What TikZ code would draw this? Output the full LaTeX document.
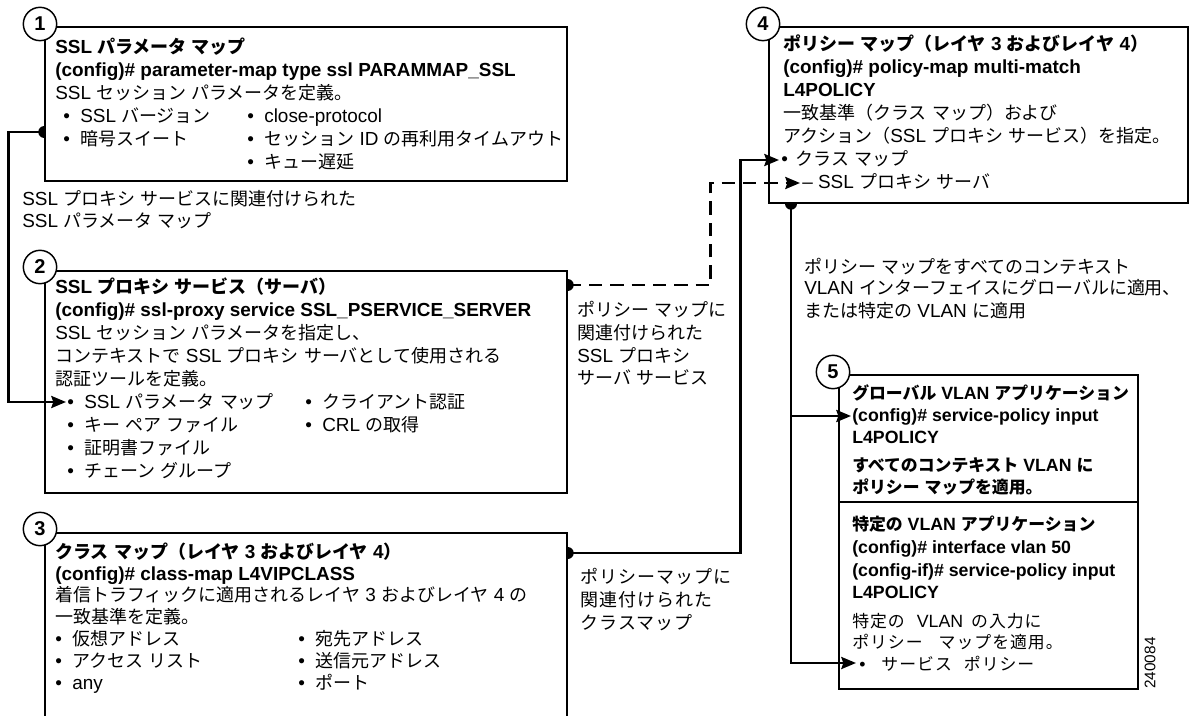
\documentclass[tikz,border=0pt]{standalone}
\usepackage{fontspec}
\setmainfont{Liberation Sans}
\newfontfamily\jfont[Scale=0.95]{Noto Sans CJK JP}
\newfontfamily\jwide[Scale=0.95,LetterSpace=6]{Noto Sans CJK JP}
\usetikzlibrary{arrows.meta,fit}
\XeTeXinterchartokenstate=1
\newXeTeXintercharclass\jclass
\makeatletter
\def\setjrange#1#2{\count@=#1\relax
  \loop\XeTeXcharclass\count@=\jclass\relax
  \ifnum\count@<#2\relax\advance\count@\@ne\repeat}
\setjrange{"3000}{"30FF}
\setjrange{"4E00}{"9FFF}
\setjrange{"FF00}{"FFEF}
\makeatother
\def\curjfont{\jfont}
\XeTeXinterchartoks 0 \jclass = {\begingroup\curjfont}
\XeTeXinterchartoks 4095 \jclass = {\begingroup\curjfont}
\XeTeXinterchartoks \jclass 0 = {\endgroup}
\XeTeXinterchartoks \jclass 4095 = {\endgroup}
\newcommand\basefont{\fontsize{14.2pt}{17pt}\selectfont}
\newcommand\smallbase{\fontsize{13.3pt}{17pt}\selectfont}
\newcommand\bul{•\hspace{0.55em}}
\begin{document}
\begin{tikzpicture}[x=0.75pt,y=-0.75pt,
  ln/.style={anchor=base west, inner sep=0pt, font=\basefont},
  lb/.style={anchor=base west, inner sep=0pt, font=\basefont\bfseries},
  lw/.style={anchor=base west, inner sep=0pt, font=\basefont\def\curjfont{\jwide}},
  sb/.style={anchor=base west, inner sep=0pt, font=\smallbase\bfseries},
  sw/.style={anchor=base west, inner sep=0pt, font=\smallbase\def\curjfont{\jwide}},
  boxn/.style={draw, line width=1.1pt, inner sep=0pt, rectangle},
  numc/.style={circle, draw, line width=1.1pt, fill=white, minimum size=25pt, inner sep=0pt, font=\fontsize{15pt}{15pt}\selectfont\bfseries},
  conn/.style={line width=2pt},
  arr/.style={conn, -{Stealth[length=11pt,width=9pt,inset=1.5pt]}},
  dsh/.style={dash pattern=on 10pt off 6pt}
]
\useasboundingbox (0,0) rectangle (1201,716);
% boxes
\node[boxn, fit={(45,27) (567,181)}] (box1) {};
\node[boxn, fit={(45,271) (567,493)}] (box2) {};
\node[boxn, fit={(45,533) (567,760)}] (box3) {};
\node[boxn, fit={(769,27) (1188,203)}] (box4) {};
\node[boxn, fit={(839,375) (1138,689)}] (box5) {};
\draw[line width=1.1pt] (box5.west |- 0,502) -- (box5.east |- 0,502);
% number circles
\node[numc] (n1) at (40,24) {1};
\node[numc] (n2) at (40,267) {2};
\node[numc] (n3) at (40,529) {3};
\node[numc] (n4) at (763,24) {4};
\node[numc] (n5) at (833,372) {5};
% box 1
\node[lb] (t11) at (55,54) {SSL パラメータ マップ};
\node[lb] (t12) at (55,77) {(config)\# parameter-map type ssl PARAMMAP\_SSL};
\node[ln] (t13) at (55,100) {SSL セッション パラメータを定義。};
\node[ln] (t14) at (63,123) {\bul SSL バージョン};
\node[ln] (t15) at (247,123) {\bul close-protocol};
\node[ln] (t16) at (63,146) {\bul 暗号スイート};
\node[ln] (t17) at (247,146) {\bul セッション ID の再利用タイムアウト};
\node[ln] (t18) at (247,169) {\bul キュー遅延};
\node[ln] (l1a) at (22,206) {SSL プロキシ サービスに関連付けられた};
\node[ln] (l1b) at (22,228) {SSL パラメータ マップ};
% box 2
\node[lb] (t21) at (55,293) {SSL プロキシ サービス（サーバ）};
\node[lb] (t22) at (55,316) {(config)\# ssl-proxy service SSL\_PSERVICE\_SERVER};
\node[ln] (t23) at (55,339) {SSL セッション パラメータを指定し、};
\node[ln] (t24) at (55,362) {コンテキストで SSL プロキシ サーバとして使用される};
\node[ln] (t25) at (55,385) {認証ツールを定義。};
\node[ln] (t26) at (67,408) {\bul SSL パラメータ マップ};
\node[ln] (t27) at (305,408) {\bul クライアント認証};
\node[ln] (t28) at (67,431) {\bul キー ペア ファイル};
\node[ln] (t29) at (305,431) {\bul CRL の取得};
\node[ln] (t2a) at (67,454) {\bul 証明書ファイル};
\node[ln] (t2b) at (67,477) {\bul チェーン グループ};
\node[ln] (l2a) at (577,316) {ポリシー マップに};
\node[ln] (l2b) at (577,339) {関連付けられた};
\node[ln] (l2c) at (577,362) {SSL プロキシ};
\node[ln] (l2d) at (577,384) {サーバ サービス};
% box 3
\node[lb] (t31) at (55,558) {クラス マップ（レイヤ 3 およびレイヤ 4）};
\node[lb] (t32) at (55,580) {(config)\# class-map L4VIPCLASS};
\node[ln] (t33) at (55,601) {着信トラフィックに適用されるレイヤ 3 およびレイヤ 4 の};
\node[ln] (t34) at (55,623) {一致基準を定義。};
\node[ln] (t35) at (55,645) {\bul 仮想アドレス};
\node[ln] (t36) at (298,645) {\bul 宛先アドレス};
\node[ln] (t37) at (55,667) {\bul アクセス リスト};
\node[ln] (t38) at (298,667) {\bul 送信元アドレス};
\node[ln] (t39) at (55,689) {\bul any};
\node[ln] (t3a) at (298,689) {\bul ポート};
\node[lw] (l3a) at (580,583) {ポリシーマップに};
\node[lw] (l3b) at (580,606) {関連付けられた};
\node[lw] (l3c) at (580,629) {クラスマップ};
% box 4
\node[lb] (t41) at (783,51) {ポリシー マップ（レイヤ 3 およびレイヤ 4）};
\node[lb] (t42) at (783,74) {(config)\# policy-map multi-match};
\node[lb] (t43) at (783,97) {L4POLICY};
\node[ln] (t44) at (783,120) {一致基準（クラス マップ）および};
\node[ln] (t45) at (783,143) {アクション（SSL プロキシ サービス）を指定。};
\node[ln] (t46) at (781,166) {•\hspace{0.4em}クラス マップ};
\node[ln] (t47) at (802,189) {– SSL プロキシ サーバ};
\node[ln] (l4a) at (804,273) {ポリシー マップをすべてのコンテキスト};
\node[ln] (l4b) at (804,295) {VLAN インターフェイスにグローバルに適用、};
\node[ln] (l4c) at (804,317) {または特定の VLAN に適用};
% box 5
\node[sb] (t51) at (852,399) {グローバル VLAN アプリケーション};
\node[sb] (t52) at (852,421) {(config)\# service-policy input};
\node[sb] (t53) at (852,443) {L4POLICY};
\node[sb] (t54) at (852,471) {すべてのコンテキスト VLAN に};
\node[sb] (t55) at (852,493) {ポリシー マップを適用。};
\node[sb] (t56) at (852,530) {特定の VLAN アプリケーション};
\node[sb] (t57) at (852,553) {(config)\# interface vlan 50};
\node[sb] (t58) at (852,576) {(config-if)\# service-policy input};
\node[sb] (t59) at (852,598) {L4POLICY};
\node[sw] (t5a) at (852,627) {特定の\hspace{9pt}VLAN\hspace{6pt}の入力に};
\node[sw] (t5b) at (852,648) {ポリシー\hspace{12pt}マップを適用。};
\node[sw] (t5c) at (859,670) {•\hspace{12pt}サービス\hspace{9pt}ポリシー};
\node[rotate=90, font=\fontsize{11.5pt}{12pt}\selectfont, inner sep=0pt] (fig) at (1150,663) {240084};
% connectors
\coordinate (d1) at (box1.west |- 0,132);
\coordinate (a2) at (66,402);
\coordinate (d2) at (box2.east |- 0,285);
\coordinate (a4b) at (800,183);
\coordinate (d3) at (box3.east |- 0,553);
\coordinate (a4a) at (779,160);
\coordinate (d4) at (box4.south -| 791,0);
\coordinate (a5a) at (851,416);
\coordinate (a5b) at (856,663);
\draw[arr] (d1) -- ++(-36,0) |- (a2);
\draw[arr, dsh] (d2) -- ++(143,0) |- (a4b);
\draw[arr] (d3) -- ++(173,0) |- (a4a);
\draw[arr] (d4) |- (a5b);
\draw[arr] (d4 |- a5a) -- (a5a);
\fill (d1) ++(0,6) arc[start angle=90,end angle=270,radius=6] -- cycle;
\fill (d2) ++(0,-6) arc[start angle=-90,end angle=90,radius=6] -- cycle;
\fill (d3) ++(0,-6) arc[start angle=-90,end angle=90,radius=6] -- cycle;
\fill (d4) ++(6,0) arc[start angle=0,end angle=180,radius=6] -- cycle;
\end{tikzpicture}
\end{document}
